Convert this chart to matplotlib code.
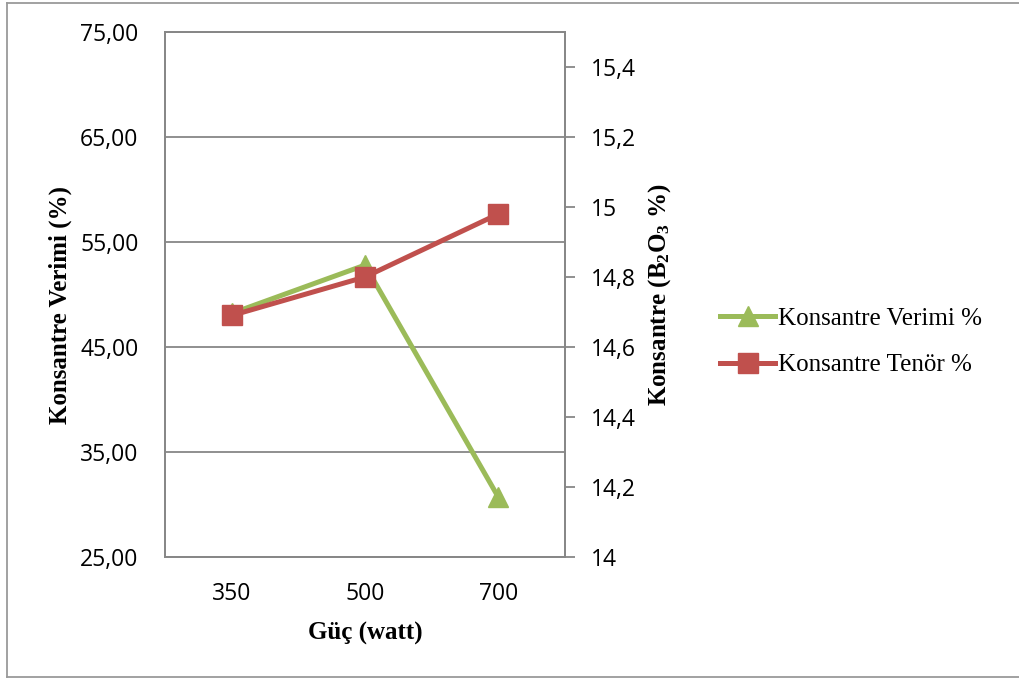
import matplotlib
matplotlib.use("Agg")
import matplotlib.pyplot as plt
from matplotlib.lines import Line2D

power_labels = ["350", "500", "700"]
verim = [48.2, 52.8, 30.7]      # Konsantre Verimi % (left axis)
tenor = [14.69, 14.80, 14.98]   # Konsantre Tenör % (right axis)

left_ticks = [25, 35, 45, 55, 65, 75]
right_ticks = [14.0, 14.2, 14.4, 14.6, 14.8, 15.0, 15.2, 15.4]

GREEN = "#9BBB59"
RED = "#C0504D"
GRAY = "#878787"
TICK_FONT = "Open Sans"
SERIF = "Liberation Serif"

plt.rcParams["mathtext.fontset"] = "custom"
plt.rcParams["mathtext.bf"] = "Liberation Serif:bold"
plt.rcParams["mathtext.rm"] = "Liberation Serif:bold"
plt.rcParams["mathtext.it"] = "Liberation Serif:bold"

fig = plt.figure(figsize=(10.2, 6.79), dpi=100)
ax1 = fig.add_axes([165 / 1020, 1 - 557 / 679, 400 / 1020, 525 / 679])
ax2 = ax1.twinx()

x = range(len(power_labels))
ax1.plot(x, verim, color=GREEN, lw=3.6, marker="^", ms=14, zorder=3)
ax2.plot(x, tenor, color=RED, lw=3.6, marker="s", ms=14, zorder=3)

ax1.set_xlim(-0.5, 2.5)
ax1.set_ylim(25, 75)
ax2.set_ylim(14, 15.5)
ax1.set_xticks(list(x))
ax1.set_xticklabels(power_labels, fontfamily=TICK_FONT, fontsize=16.5)
ax1.set_yticks(left_ticks)
ax1.set_yticklabels([f"{v:.2f}".replace(".", ",") for v in left_ticks],
                    fontfamily=TICK_FONT, fontsize=16.5)
ax2.set_yticks(right_ticks)
ax2.set_yticklabels([f"{v:g}".replace(".", ",") for v in right_ticks],
                    fontfamily=TICK_FONT, fontsize=16.5)

ax1.yaxis.grid(True, color=GRAY, lw=1.3)
ax1.set_axisbelow(True)
ax1.tick_params(axis="x", length=0, pad=18)
ax1.tick_params(axis="y", length=0, pad=19)
ax2.tick_params(axis="y", length=7, width=1.3, color=GRAY, direction="out", pad=12)

for ax in (ax1, ax2):
    for s in ax.spines.values():
        s.set_color(GRAY)
        s.set_linewidth(1.3)

fig.text(60 / 1020, 1 - 305 / 679, "Konsantre Verimi (%)", rotation=90,
         ha="center", va="center", fontfamily=SERIF, fontweight="bold", fontsize=18)
fig.text(660 / 1020, 1 - 295 / 679, r"Konsantre (B$_\mathbf{2}$O$_\mathbf{3}$ %)",
         rotation=90, ha="center", va="center", fontfamily=SERIF,
         fontweight="bold", fontsize=18)
fig.text(365 / 1020, 1 - 633 / 679, "Güç (watt)", ha="center", va="center",
         fontfamily=SERIF, fontweight="bold", fontsize=18)

handles = [
    Line2D([], [], color=GREEN, lw=3.6, marker="^", ms=14),
    Line2D([], [], color=RED, lw=3.6, marker="s", ms=14),
]
fig.legend(handles, ["Konsantre Verimi %", "Konsantre Tenör %"],
           loc="center left", bbox_to_anchor=(698 / 1020, 1 - 342 / 679),
           frameon=False, prop={"family": SERIF, "size": 18},
           handlelength=2.2, handletextpad=0.1, labelspacing=0.95)

# outer chart frame
for xs, ys in [([7, 7], [3, 677]), ([7, 1020], [3, 3]), ([7, 1020], [677, 677])]:
    fig.add_artist(Line2D([v / 1020 for v in xs], [1 - v / 679 for v in ys],
                          color="#9a9a9a", lw=1.3))

fig.savefig("out.png", dpi=100)
